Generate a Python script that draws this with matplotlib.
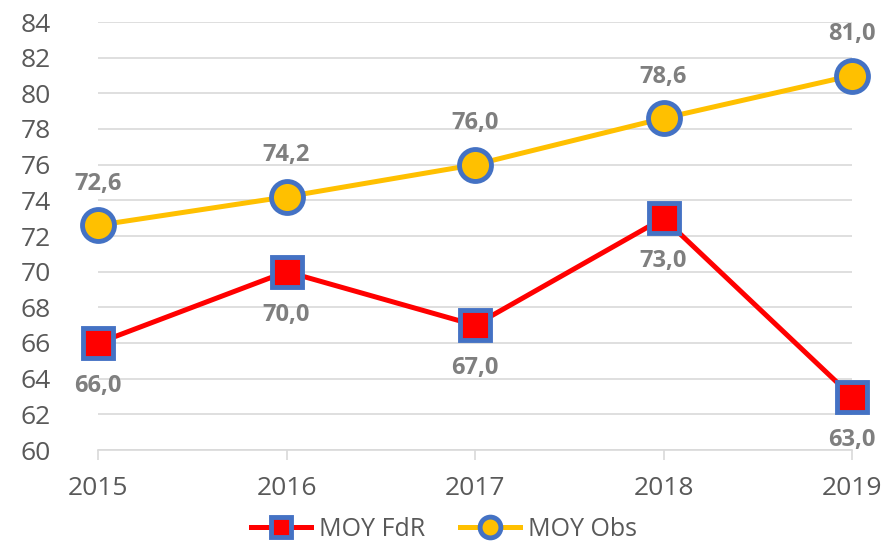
import matplotlib
matplotlib.use("Agg")
import matplotlib.pyplot as plt

years = ["2015", "2016", "2017", "2018", "2019"]
moy_fdr = [66.0, 70.0, 67.0, 73.0, 63.0]
moy_obs = [72.6, 74.2, 76.0, 78.6, 81.0]
y_ticks = list(range(60, 85, 2))

plt.rcParams['font.family'] = ['Open Sans', 'DejaVu Sans']

fig = plt.figure(figsize=(8.88, 5.45), dpi=100)
ax = fig.add_axes([98 / 888, 1 - 450 / 545, (852 - 98) / 888, (450 - 22) / 545])

x = list(range(len(years)))
blue = '#4472C4'
ax.plot(x, moy_fdr, color='#FF0000', lw=3.6, marker='s', ms=22, mfc='#FF0000',
        mec=blue, mew=3.5, label='MOY FdR', zorder=3, clip_on=False)
ax.plot(x, moy_obs, color='#FFC000', lw=3.6, marker='o', ms=23, mfc='#FFC000',
        mec=blue, mew=3.5, label='MOY Obs', zorder=3, clip_on=False)

for xi, v in zip(x, moy_fdr):
    ax.annotate(f"{v:.1f}".replace('.', ','), (xi, v), xytext=(0, -31),
                textcoords='offset points', ha='center', va='center',
                fontsize=17, fontweight='bold', color='#7F7F7F')
for xi, v in zip(x, moy_obs):
    ax.annotate(f"{v:.1f}".replace('.', ','), (xi, v), xytext=(0, 30),
                textcoords='offset points', ha='center', va='center',
                fontsize=17, fontweight='bold', color='#7F7F7F')

ax.set_xlim(0, len(years) - 1)
ax.set_ylim(60, 84)
ax.set_yticks(y_ticks)
ax.set_xticks(x)
ax.set_xticklabels(years)
ax.grid(axis='y', color='#D9D9D9', lw=1.2)
ax.set_axisbelow(True)
for s in ['top', 'right', 'left']:
    ax.spines[s].set_visible(False)
ax.spines['bottom'].set_color('#D9D9D9')
ax.spines['bottom'].set_linewidth(1.2)
ax.tick_params(axis='y', length=0, pad=34, labelsize=19, labelcolor='#595959')
ax.tick_params(axis='x', length=7, width=1.2, color='#D9D9D9', pad=12,
               labelsize=19, labelcolor='#595959')

leg = fig.legend(loc='lower center', bbox_to_anchor=(0.5, -0.035), ncol=2,
                 frameon=False, fontsize=18, handlelength=2.4, markerscale=0.65,
                 columnspacing=1.4, handletextpad=0.3)
for t in leg.get_texts():
    t.set_color('#595959')

fig.savefig('out.png', dpi=100)
